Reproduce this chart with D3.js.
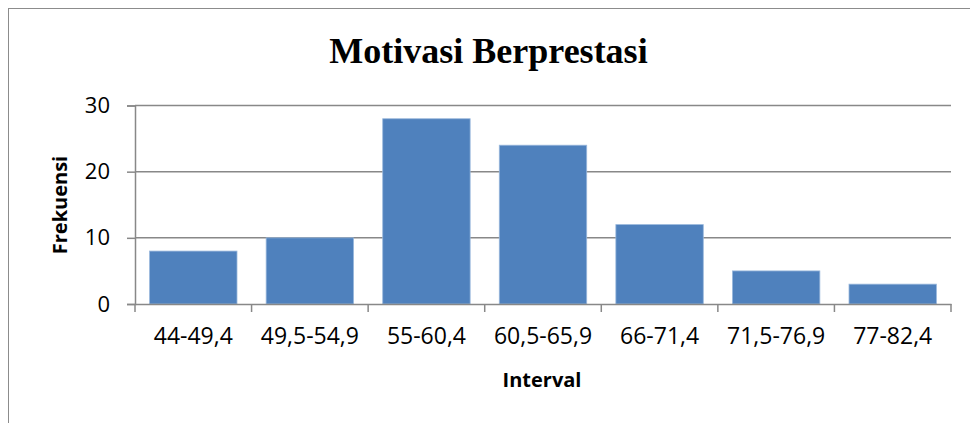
<!DOCTYPE html>
<html><head><meta charset="utf-8">
<script src="https://cdn.jsdelivr.net/npm/d3@7/dist/d3.min.js"></script>
<style>body{margin:0;background:#fff}svg{display:block}</style>
</head><body><svg id="c" width="970" height="423"></svg>
<script>
const categories = ["44-49,4","49,5-54,9","55-60,4","60,5-65,9","66-71,4","71,5-76,9","77-82,4"];
const values = [8,10,28,24,12,5,3];
const yTicks = [0,10,20,30];
const title = "Motivasi Berprestasi";
const xTitle = "Interval";
const yTitle = "Frekuensi";

const FONT = "'Open Sans', Lato, sans-serif";
const svg = d3.select("#c");
const m = {l:135, r:951, t:105.5, b:304};
svg.append("rect").attr("x",8.5).attr("y",8.5).attr("width",1000).attr("height",1000)
  .attr("fill","none").attr("stroke","#8c8c8c").attr("stroke-width",1);

const x = d3.scaleBand().domain(categories).range([m.l,m.r]).paddingInner(0.25).paddingOuter(0.125);
const y = d3.scaleLinear().domain([0,30]).range([m.b,m.t]);

// gridlines
svg.append("g").selectAll("line").data(yTicks.filter(d=>d>0)).join("line")
  .attr("x1",m.l).attr("x2",m.r).attr("y1",d=>y(d)).attr("y2",d=>y(d))
  .attr("stroke","#888").attr("stroke-width",1.5);

// bars
svg.append("g").selectAll("rect").data(values).join("rect")
  .attr("x",(d,i)=>x(categories[i])).attr("width",x.bandwidth())
  .attr("y",d=>y(d)).attr("height",d=>y(0)-y(d))
  .attr("fill","#4F81BD").attr("stroke","#9ab8dc").attr("stroke-width",0.8);

// y axis
const ya = svg.append("g").attr("transform",`translate(${m.l},0)`)
  .call(d3.axisLeft(y).tickValues(yTicks).tickSize(8).tickPadding(17));
ya.select(".domain").attr("stroke","#888").attr("stroke-width",1.5);
ya.selectAll(".tick line").attr("stroke","#888").attr("stroke-width",1.5);
ya.selectAll("text").attr("font-family",FONT).attr("font-size",22).attr("fill","#000");

// x axis
const xa = svg.append("g").attr("transform",`translate(0,${m.b})`)
  .call(d3.axisBottom(x).tickSize(0).tickPadding(24));
xa.select(".domain").attr("stroke","#888").attr("stroke-width",1.5);
xa.selectAll("text").attr("font-family",FONT).attr("font-size",23).attr("fill","#000");
const bounds = categories.map(c=>x(c)-x.step()*x.paddingInner()/2).concat([m.r]);
xa.append("g").selectAll("line").data(bounds).join("line")
  .attr("x1",d=>d).attr("x2",d=>d).attr("y1",0).attr("y2",8)
  .attr("stroke","#888").attr("stroke-width",1.5);

// titles
svg.append("text").attr("x",488.5).attr("y",63).attr("text-anchor","middle")
  .attr("font-family","'Liberation Serif','Times New Roman',serif").attr("font-weight","bold")
  .attr("font-size",36).text(title);
svg.append("text").attr("x",542).attr("y",387).attr("text-anchor","middle")
  .attr("font-family",FONT).attr("font-weight","bold")
  .attr("font-size",20).text(xTitle);
svg.append("text").attr("transform","translate(67,205) rotate(-90)").attr("text-anchor","middle")
  .attr("font-family",FONT).attr("font-weight","bold")
  .attr("font-size",20).text(yTitle);
</script></body></html>
